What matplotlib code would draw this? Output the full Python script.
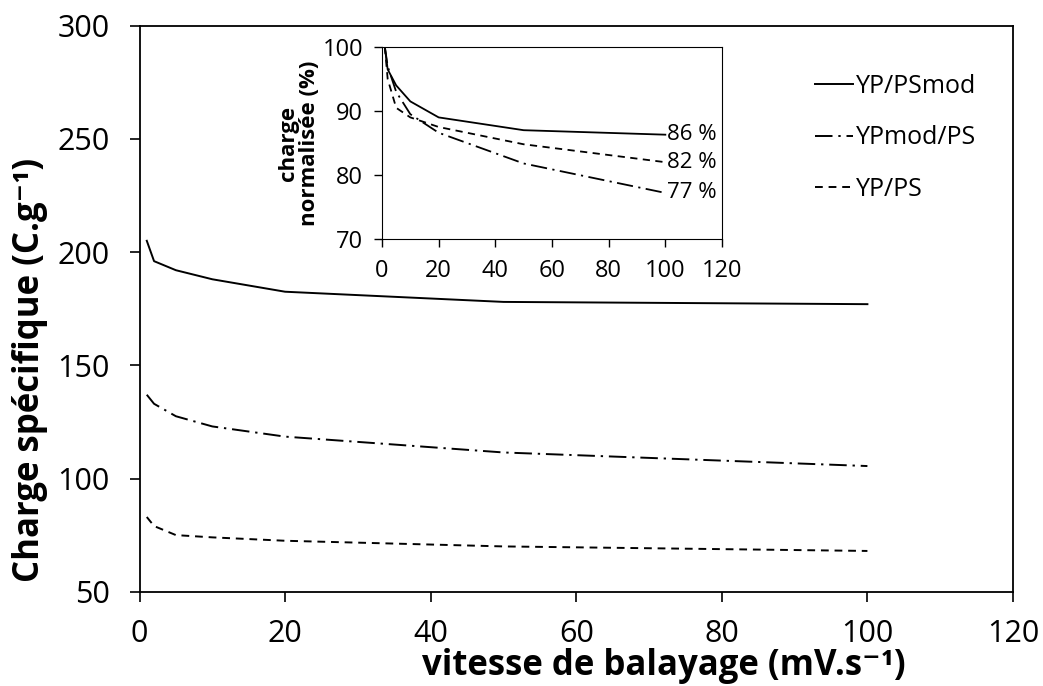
import matplotlib
matplotlib.use('Agg')
import matplotlib.pyplot as plt

plt.rcParams['font.family'] = ['Open Sans', 'DejaVu Sans']

# vitesse de balayage (mV/s)
vitesse = [1, 2, 5, 10, 20, 50, 100]

# charge specifique (C/g)
yp_psmod = [205, 196, 192, 188, 182.5, 178, 177]
ypmod_ps = [137, 133, 127.5, 123, 118.5, 111.5, 105.5]
yp_ps = [83, 79, 75, 74, 72.5, 70, 68]

# charge normalisee (%)
norm_yp_psmod = [100, 96.5, 94, 91.5, 89, 87, 86.3]
norm_ypmod_ps = [100, 97, 93, 89.5, 86.6, 81.8, 77.2]
norm_yp_ps = [100, 95, 90.5, 89, 87.5, 84.8, 82]

noms = ['YP/PSmod', 'YPmod/PS', 'YP/PS']
etiquettes = ['86 %', '77 %', '82 %']

styles = ['-', (0, (9, 3, 1.2, 3)), (0, (4, 3))]

W, H = 1043, 686
fig = plt.figure(figsize=(W / 100, H / 100), dpi=100)
ax = fig.add_axes([139.5 / W, 1 - 591.7 / H, 873.5 / W, 566 / H])

for y, nom, ls in zip([yp_psmod, ypmod_ps, yp_ps], noms, styles):
    ax.plot(vitesse, y, color='black', lw=1.4, linestyle=ls, label=nom)

ax.set_xlim(0, 120)
ax.set_ylim(50, 300)
ax.set_xticks([0, 20, 40, 60, 80, 100, 120])
ax.set_yticks([50, 100, 150, 200, 250, 300])
ax.tick_params(direction='out', length=7.5, width=1.2, labelsize=22)
ax.tick_params(axis='x', pad=12)
ax.tick_params(axis='y', pad=14)
for s in ax.spines.values():
    s.set_linewidth(1.3)

# titres des axes (decales comme dans l'original)
fig.text(664 / W, 2 / H, 'vitesse de balayage (mV.s⁻¹)', fontsize=25,
         fontweight='bold', ha='center', va='bottom')
fig.text(30 / W, 1 - 370 / H, 'Charge spécifique (C.g⁻¹)', fontsize=25,
         fontweight='bold', ha='center', va='center', rotation=90)

ax.legend(loc='upper left', bbox_to_anchor=(815 / W, 1 - 74 / H), bbox_transform=fig.transFigure,
          frameon=False, fontsize=18, borderpad=0, borderaxespad=0,
          handlelength=1.5, handletextpad=0.15, labelspacing=1.05)

# encart
ins = fig.add_axes([382 / W, 1 - 239 / H, 340 / W, 192 / H])
for y, ls in zip([norm_yp_psmod, norm_ypmod_ps, norm_yp_ps], styles):
    ins.plot(vitesse, y, color='black', lw=1.3, linestyle=ls)
for y, txt in zip([norm_yp_psmod, norm_ypmod_ps, norm_yp_ps], etiquettes):
    ins.annotate(txt, (vitesse[-1], y[-1]), xytext=(1.5, 0), textcoords='offset points',
                 fontsize=16, va='center', ha='left')
ins.set_xlim(0, 120)
ins.set_ylim(70, 100)
ins.set_xticks([0, 20, 40, 60, 80, 100, 120])
ins.set_yticks([70, 80, 90, 100])
ins.tick_params(direction='out', length=5.5, width=1, labelsize=17)
ins.tick_params(axis='x', pad=9)
ins.tick_params(axis='y', pad=8)
ins.set_ylabel('charge\nnormalisée (%)', fontsize=16, fontweight='bold', labelpad=2,
               linespacing=1.0)

fig.savefig('out.png', dpi=100)
